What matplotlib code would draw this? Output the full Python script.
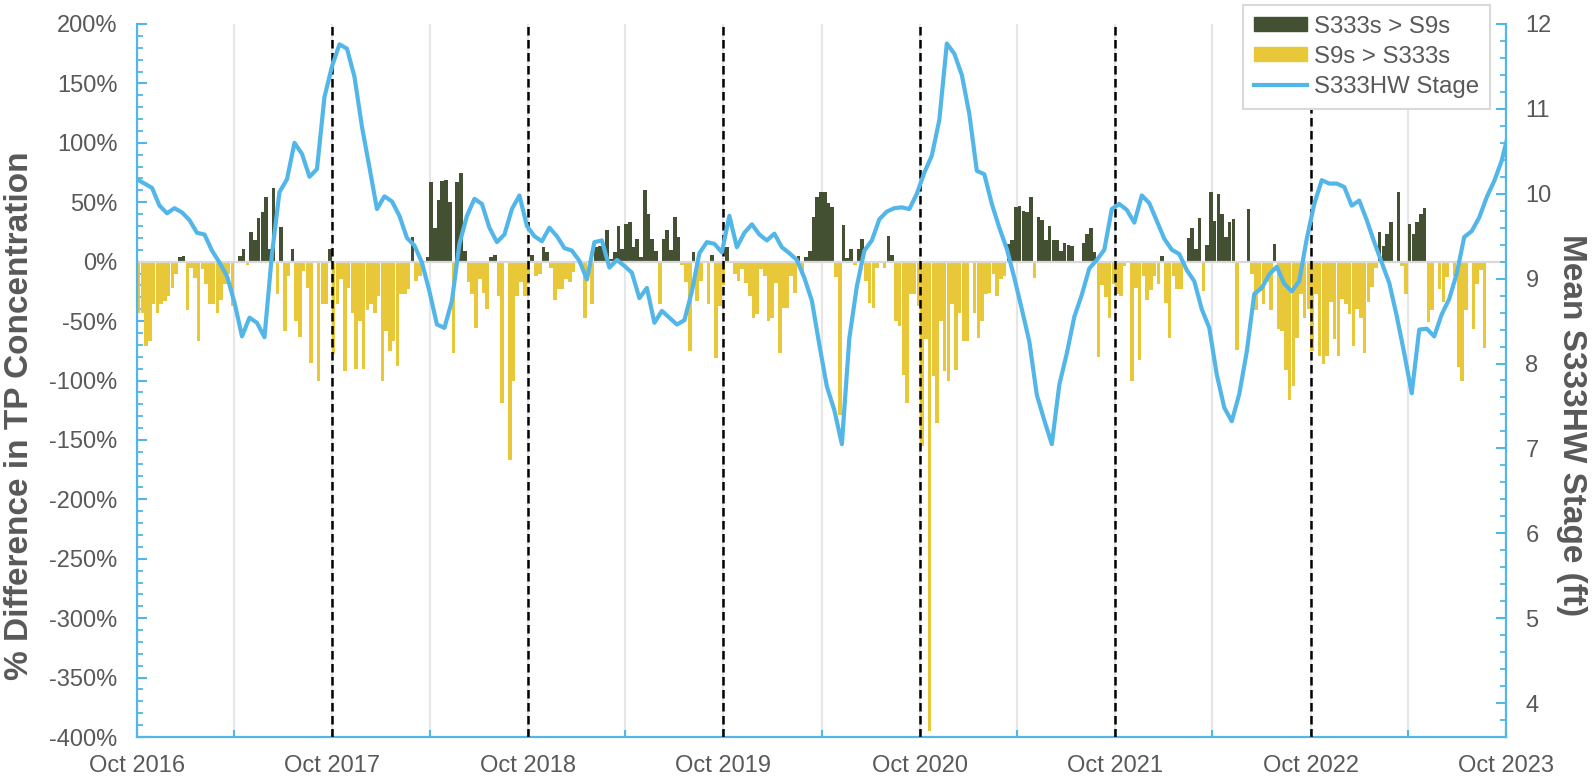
import matplotlib
matplotlib.use("Agg")
import matplotlib.pyplot as plt
import matplotlib.dates as mdates
import numpy as np
import pandas as pd
from matplotlib.patches import Patch
from matplotlib.lines import Line2D
from matplotlib.ticker import MultipleLocator, FuncFormatter

plt.rcParams["font.family"] = ["Liberation Sans", "DejaVu Sans"]

# weekly % difference in TP concentration (positive: S333s > S9s)
BAR_START = "2016-10-04"
tp_diff = [
    -43, -43, -71, -67, -36, -43, -36, -33, -29, -22, -10, 4, 5, -41, -5, -14,
    -67, -6, -19, -36, -36, -43, -32, -19, -10, -37, 0, 5, 11, -3, 25, 18,
    37, 42, 54, 11, 62, -27, 29, -58, -12, 11, -50, -63, -8, -22, -85, 0,
    -100, -36, -36, 11, -78, -36, -15, -92, -22, -43, -90, -50, -90,
    -41, -36, -43, -29, -100, -58, -75, -67, -88, -27, -27, -23, 21, -16, -12, 0,
    4, 67, 28, 52, 68, 69, 50, -77, 67, 75, 9, -17, -27, -56, -15, -26,
    -40, 4, 6, -29, -119, 0, -167, -100, -29, -17, -29, -19, 6, -12, -10, 12,
    8, -5, -32, -23, -23, -15, -17, -9, 0, 0, -47, 0, -36,
    12, 13, 13, 27, 2, 8, 30, 11, 32, 33, 12, 19, 4, 60, 40, 19,
    9, -36, 19, 27, 10, 38, 21, -3, -17, -75, 8, -33, -16, 0, -36, 6,
    -81, -37, -20, 12, 0, -10, -16, -6, -18, -29, -47, -44, -6, -12, -50, -47,
    -18, -77, -39, -39, -12, -26, 5, -10, 4, 9, 38, 54, 59,
    59, 49, 46, -13, -129, 31, 3, 11, -3, 11, 19, -16, -35, -39, -5, 0,
    -5, 22, 6, -50, -54, -95, -119, -27, -27, -37, -155, -65, -395, -96, -136, -50,
    -92, -100, -36, -91, -43, -67, -67, 0, -43, -64, -50, -27, -26, -10, -29, -15,
    -12, 15, 18, 46, 47, 43, 42, 54, -14, 38, 35, 18, 30, 18,
    18, 9, 16, 14, 13, 0, 0, 16, 23, 28, 8, -80, -20, -30, -47, -19,
    -27, -29, -4, 0, -100, -22, -83, -12, -32, -24, -12, -19, 5, -35, -64, -12,
    -23, -23, 0, 20, 28, 11, 37, -25, 14, 59, 34, 57, 40, 21, 33, 36,
    -74, 0, 0, 44, -10, -41, -23, -36, -17, -41, 15, -57, -58,
    -91, -116, -105, -64, -27, -47, -40, -75, -27, -79, -86, -79, -34, -65, -79, -31,
    -36, -44, -71, -40, -47, -77, -34, -21, -5, 25, 13, 23, 33, 0, 59, -4,
    -27, 32, 23, 33, 40, 45, -51, -41, 0, -23, -34, -13, 0, -12, -89, -100,
    -41, 0, -57, -19, -7, -73, 0, 0, 0, 0, 0,
]

# biweekly mean S333HW headwater stage (ft)
STAGE_START = "2016-10-01"
stage = [
    10.17, 10.12, 10.07, 9.86, 9.77, 9.83, 9.78, 9.69, 9.54, 9.52,
    9.33, 9.19, 9.03, 8.72, 8.32, 8.54, 8.48, 8.31, 9.29, 10.02,
    10.17, 10.60, 10.47, 10.20, 10.29, 11.14, 11.50, 11.76, 11.71, 11.38,
    10.79, 10.31, 9.82, 9.97, 9.91, 9.74, 9.48, 9.39, 9.19, 8.85,
    8.46, 8.42, 8.74, 9.41, 9.74, 9.94, 9.88, 9.60, 9.43, 9.52,
    9.82, 9.98, 9.62, 9.50, 9.44, 9.60, 9.50, 9.36, 9.33, 9.21,
    8.99, 9.43, 9.45, 9.13, 9.22, 9.15, 9.07, 8.77, 8.89, 8.48,
    8.62, 8.54, 8.46, 8.51, 8.85, 9.30, 9.43, 9.41, 9.31, 9.74,
    9.37, 9.54, 9.64, 9.52, 9.45, 9.53, 9.37, 9.30, 9.22, 9.01,
    8.74, 8.22, 7.73, 7.45, 7.05, 8.30, 8.91, 9.33, 9.45, 9.70,
    9.79, 9.83, 9.84, 9.82, 10.00, 10.25, 10.45, 10.87, 11.77, 11.65,
    11.40, 10.94, 10.27, 10.23, 9.88, 9.60, 9.35, 9.01, 8.64, 8.26,
    7.63, 7.33, 7.05, 7.75, 8.12, 8.55, 8.81, 9.12, 9.22, 9.34,
    9.82, 9.88, 9.81, 9.66, 9.98, 9.89, 9.68, 9.47, 9.34, 9.29,
    9.10, 8.97, 8.64, 8.42, 7.87, 7.48, 7.32, 7.64, 8.14, 8.82,
    8.89, 9.05, 9.14, 8.94, 8.85, 8.97, 9.47, 9.88, 10.16, 10.12,
    10.12, 10.08, 9.86, 9.92, 9.69, 9.43, 9.19, 8.95, 8.56, 8.12,
    7.65, 8.40, 8.41, 8.32, 8.58, 8.76, 9.06, 9.49, 9.56, 9.72,
    9.96, 10.15, 10.39, 10.75,
]

# water-year boundaries (1 Oct)
wy_years = [2017, 2018, 2019, 2020, 2021, 2022, 2023]

OLIVE = "#445032"
YELLOW = "#E8C838"
BLUE = "#52B6E8"
GRAY = "#595959"
FS = 17

bar_dates = pd.date_range(BAR_START, periods=len(tp_diff), freq="7D")
stage_dates = pd.date_range(STAGE_START, periods=len(stage), freq="14D")
vals = np.array(tp_diff, dtype=float)

fig = plt.figure(figsize=(15.95, 7.79), dpi=100)
ax = fig.add_axes([137 / 1595, 42 / 779, 1369 / 1595, 713 / 779])
ax2 = ax.twinx()

ax.bar(bar_dates[vals > 0], vals[vals > 0], width=6.7, color=OLIVE, zorder=2)
ax.bar(bar_dates[vals < 0], vals[vals < 0], width=6.7, color=YELLOW, zorder=2)
ax.axhline(0, color="#d9d9d9", lw=1.6, zorder=2.5)
for y in wy_years:
    ax.axvline(pd.Timestamp(f"{y}-10-01"), color="black", lw=1.8,
               ls=(0, (3.4, 1.8)), zorder=3)

ax2.plot(stage_dates, stage, color=BLUE, lw=3.0, solid_joinstyle="round",
         solid_capstyle="round", zorder=4)

# x axis
ax.set_xlim(pd.Timestamp("2016-10-01"), pd.Timestamp("2023-10-01"))
ax.xaxis.set_major_locator(mdates.MonthLocator(bymonth=10))
ax.xaxis.set_minor_locator(mdates.MonthLocator(bymonth=4))
ax.xaxis.set_major_formatter(mdates.DateFormatter("%b %Y"))
ax.grid(axis="x", which="both", color="#e6e6e6", lw=1.5, zorder=0)
ax.set_axisbelow(True)

# left axis
ax.set_ylim(-400, 200)
ax.yaxis.set_major_locator(MultipleLocator(50))
ax.yaxis.set_minor_locator(MultipleLocator(10))
ax.yaxis.set_major_formatter(FuncFormatter(lambda v, p: f"{v:.0f}%"))

# right axis
ax2.set_ylim(3.6, 12)
ax2.yaxis.set_major_locator(MultipleLocator(1))
ax2.yaxis.set_minor_locator(MultipleLocator(0.2))

for a in (ax, ax2):
    for s in a.spines.values():
        s.set_color(BLUE)
        s.set_linewidth(1.6)
    a.spines["top"].set_visible(False)
ax.spines["right"].set_visible(False)
ax2.spines["left"].set_visible(False)
ax2.spines["bottom"].set_visible(False)

ax.tick_params(axis="y", which="major", direction="in", length=7, width=1.5,
               color=BLUE, labelcolor=GRAY, labelsize=FS, pad=14)
ax.tick_params(axis="y", which="minor", direction="in", length=4.5, width=1.3,
               color=BLUE)
ax.tick_params(axis="x", which="both", direction="in", length=5, width=1.5,
               color=BLUE, labelcolor=GRAY, labelsize=FS, pad=13)
ax2.tick_params(axis="y", which="major", direction="in", length=7, width=1.5,
                color=BLUE, labelcolor=GRAY, labelsize=FS, pad=14)
ax2.tick_params(axis="y", which="minor", direction="in", length=4.5, width=1.3,
                color=BLUE)

ax.set_ylabel("% Difference in TP Concentration", fontsize=24,
              fontweight="bold", color=GRAY, va="center")
ax.yaxis.set_label_coords(-0.086, 0.45)
ax2.set_ylabel("Mean S333HW Stage (ft)", fontsize=24, fontweight="bold",
               color=GRAY, rotation=270, va="center")
ax2.yaxis.set_label_coords(1.048, 0.437)

handles = [Patch(color=OLIVE), Patch(color=YELLOW),
           Line2D([], [], color=BLUE, lw=3)]
labels = ["S333s > S9s", "S9s > S333s", "S333HW Stage"]
leg = ax2.legend(handles, labels, loc="upper right",
                 bbox_to_anchor=(0.9883, 1.0266), borderaxespad=0,
                 fancybox=False, framealpha=1, edgecolor="#d9d9d9",
                 fontsize=17.3, handlelength=2.2, handleheight=0.5,
                 handletextpad=0.3, labelspacing=0.33, borderpad=0.45)
leg.get_frame().set_linewidth(1.5)
for t in leg.get_texts():
    t.set_color(GRAY)

fig.savefig("out.png", dpi=100)
